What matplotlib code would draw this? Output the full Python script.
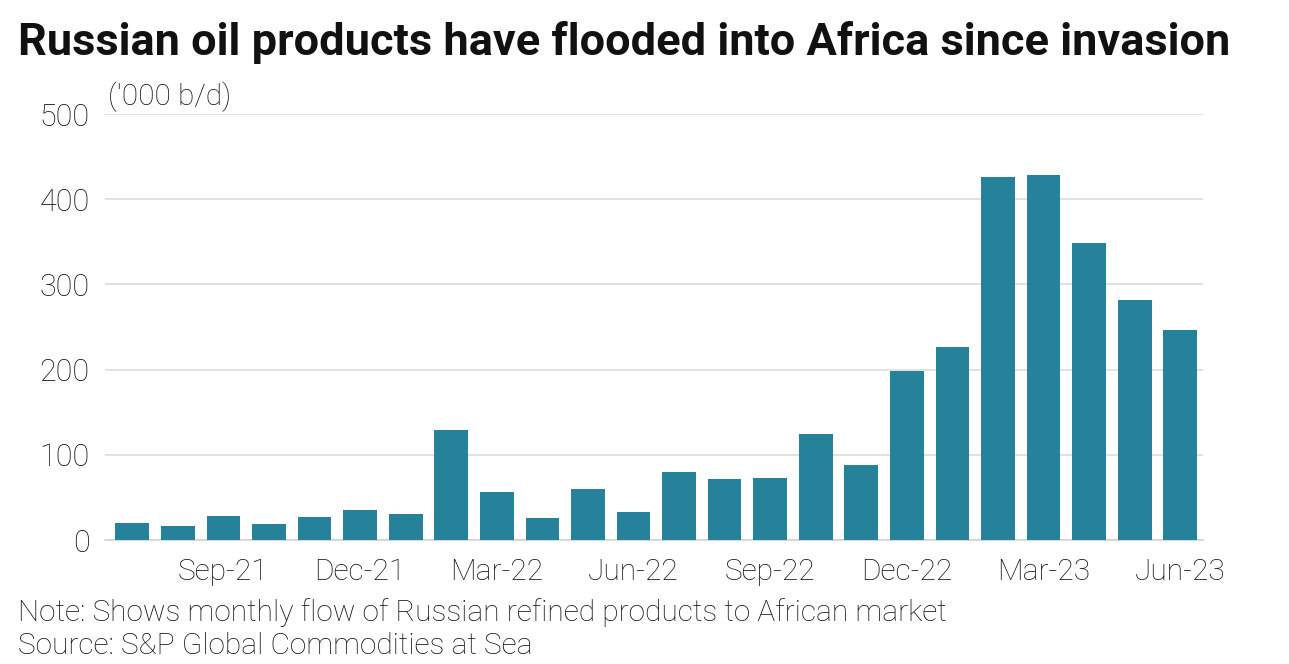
import matplotlib
matplotlib.use("Agg")
from matplotlib import pyplot as plt
import numpy as np

# monthly flows, '000 b/d
months = ["Jul-21", "Aug-21", "Sep-21", "Oct-21", "Nov-21", "Dec-21",
          "Jan-22", "Feb-22", "Mar-22", "Apr-22", "May-22", "Jun-22",
          "Jul-22", "Aug-22", "Sep-22", "Oct-22", "Nov-22", "Dec-22",
          "Jan-23", "Feb-23", "Mar-23", "Apr-23", "May-23", "Jun-23"]
flows = [20, 17, 28, 19, 27, 35, 31, 129, 56, 26, 60, 33,
         80, 72, 73, 124, 88, 198, 226, 426, 428, 349, 282, 247]
shown_labels = ["Sep-21", "Dec-21", "Mar-22", "Jun-22", "Sep-22",
                "Dec-22", "Mar-23", "Jun-23"]
y_ticks = [0, 100, 200, 300, 400, 500]

plt.rcParams["font.family"] = ["Roboto", "DejaVu Sans"]

W, H = 1289, 664
fig = plt.figure(figsize=(W / 100, H / 100), dpi=100)
ax = fig.add_axes([105 / W, 1 - 540 / H, (1203 - 105) / W, (540 - 114) / H])

x = np.arange(len(months))
ax.bar(x, flows, width=0.74, color="#26829a", zorder=3)

ax.set_xlim(-0.6, len(months) - 0.5)
ax.set_ylim(0, 500)
ax.set_yticks(y_ticks)
ax.set_yticklabels([str(v) for v in y_ticks], fontsize=22, fontweight="light", color="#111111")
pos = [months.index(m) for m in shown_labels]
ax.set_xticks(pos)
ax.set_xticklabels(shown_labels, fontsize=21.5, fontweight="light", color="#111111")
ax.tick_params(axis="both", length=0)
ax.tick_params(axis="x", pad=13)
ax.tick_params(axis="y", pad=11)

ax.grid(axis="y", color="#d9d9d9", linewidth=1.1, zorder=0)
for s in ["top", "right", "left"]:
    ax.spines[s].set_visible(False)
ax.spines["bottom"].set_color("#d0d0d0")
ax.spines["bottom"].set_linewidth(1.1)

fig.text(18 / W, 1 - 43 / H, "Russian oil products have flooded into Africa since invasion",
         fontsize=32.5, fontweight="bold", va="center", ha="left", color="#111111")
fig.text(108 / W, 1 - 97 / H, "('000 b/d)", fontsize=21.5, fontweight="light",
         va="center", ha="left", color="#111111")
fig.text(18 / W, 1 - 613 / H, "Note: Shows monthly flow of Russian refined products to African market",
         fontsize=21.5, fontweight="light", va="center", ha="left", color="#111111")
fig.text(18 / W, 1 - 646 / H, "Source: S&P Global Commodities at Sea",
         fontsize=21.5, fontweight="light", va="center", ha="left", color="#111111")

plt.savefig("out.png", dpi=100)
plt.close()
